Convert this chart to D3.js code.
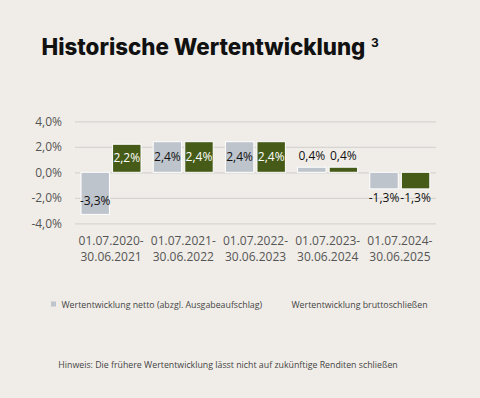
<!DOCTYPE html>
<html lang="de">
	<head>
		<meta charset="utf-8">
		<title>Historische Wertentwicklung</title>
		<script src="https://cdn.jsdelivr.net/npm/d3@7"></script>
		<style>
			body { margin:0; background:#f0ede8; }
			text { font-family: "Open Sans", sans-serif; }
		</style>
	</head>
	<body>
	<div id="chart"></div>
	<script>
		// data
		var periods = ["01.07.2020-|30.06.2021", "01.07.2021-|30.06.2022", "01.07.2022-|30.06.2023", "01.07.2023-|30.06.2024", "01.07.2024-|30.06.2025"];
		var netto = [-3.3, 2.4, 2.4, 0.4, -1.3];
		var brutto = [2.2, 2.4, 2.4, 0.4, -1.3];
		var seriesNames = ["Wertentwicklung netto (abzgl. Ausgabeaufschlag)", "Wertentwicklung bruttoschließen"];
		var yTicks = [-4, -2, 0, 2, 4];

		var w = 480, h = 398;
		var gray = "#bec4cc", green = "#455b17";

		var svg = d3.select("#chart").append("svg")
			.attr("width", w).attr("height", h);

		svg.append("rect").attr("width", w).attr("height", h).attr("fill", "#f0ede8");

		//Title
		var title = svg.append("text")
			.attr("x", 41.5).attr("y", 55)
			.style("font-family", "Inter, sans-serif")
			.style("font-weight", 800)
			.style("font-size", "24px")
			.attr("fill", "#111")
			.text("Historische Wertentwicklung");
		var tl = title.node().getComputedTextLength();
		title.style("font-size", (24 * 324 / tl) + "px");
		svg.append("text")
			.attr("x", 371).attr("y", 47)
			.style("font-family", "Inter, sans-serif")
			.style("font-weight", 700)
			.style("font-size", "12px")
			.attr("fill", "#111")
			.text("3");

		//Scales
		var y = d3.scaleLinear().domain([-4, 4]).range([223.3, 121.3]);
		var x0 = d3.scaleBand().domain(periods).range([75, 436]);
		var x1 = d3.scaleBand().domain([0, 1]).range([6, 66]).paddingInner(0.1);

		//Grid + y axis
		var yAxis = d3.axisLeft(y)
			.tickValues(yTicks)
			.tickSize(-(436 - 75))
			.tickPadding(13)
			.tickFormat(function(d){ return d.toFixed(1).replace(".", ",") + "%"; });
		var ya = svg.append("g")
			.attr("transform", "translate(75,0)")
			.call(yAxis);
		ya.select(".domain").remove();
		ya.selectAll("line").attr("stroke", "#d6d5d3").attr("stroke-width", 1.3);
		ya.selectAll("text").style("font-size", "12px").attr("fill", "#555");

		//Bars
		var rows = [];
		periods.forEach(function(p, i){
			rows.push({p: p, s: 0, v: netto[i]});
			rows.push({p: p, s: 1, v: brutto[i]});
		});

		svg.selectAll("rect.bar")
			.data(rows)
			.enter()
			.append("rect")
			.attr("class", "bar")
			.attr("x", function(d){ return x0(d.p) + x1(d.s); })
			.attr("width", x1.bandwidth())
			.attr("y", function(d){ return y(Math.max(0, d.v)); })
			.attr("height", function(d){ return Math.abs(y(d.v) - y(0)); })
			.attr("fill", function(d){ return d.s == 0 ? gray : green; })
			.attr("stroke", "#fff")
			.attr("stroke-width", 1);

		//Value labels
		svg.selectAll("text.val")
			.data(rows)
			.enter()
			.append("text")
			.attr("class", "val")
			.attr("x", function(d){ return x0(d.p) + x1(d.s) + x1.bandwidth() / 2; })
			.attr("y", function(d){
				var inside = Math.abs(d.v) >= 1.5;
				if (inside) return (y(d.v) + y(0)) / 2 + (d.v < 0 ? 7 : 0);
				return d.v >= 0 ? y(d.v) - 11 : y(d.v) + 9;
			})
			.attr("dy", "0.35em")
			.attr("text-anchor", "middle")
			.style("font-size", "12px")
			.attr("fill", function(d){
				return (d.s == 1 && Math.abs(d.v) >= 1.5) ? "#fff" : "#111";
			})
			.text(function(d){ return d.v.toFixed(1).replace(".", ",") + "%"; });

		//X labels
		var xl = svg.selectAll("text.cat")
			.data(periods)
			.enter()
			.append("text")
			.attr("class", "cat")
			.attr("text-anchor", "middle")
			.style("font-size", "12px")
			.attr("fill", "#555")
			.attr("transform", function(d){ return "translate(" + (x0(d) + x0.bandwidth() / 2) + ",245)"; });
		xl.selectAll("tspan")
			.data(function(d){ return d.split("|"); })
			.enter()
			.append("tspan")
			.attr("x", 0)
			.attr("y", function(d, i){ return i * 16; })
			.text(function(d){ return d; });

		//Legend
		svg.append("rect")
			.attr("x", 51).attr("y", 301.5)
			.attr("width", 5).attr("height", 5)
			.attr("fill", gray);
		svg.append("text")
			.attr("x", 61.5).attr("y", 307.5)
			.style("font-size", "8.8px")
			.attr("fill", "#444")
			.text(seriesNames[0]);
		svg.append("text")
			.attr("x", 291.5).attr("y", 307.5)
			.style("font-size", "8.8px")
			.attr("fill", "#444")
			.text(seriesNames[1]);

		//Footer
		svg.append("text")
			.attr("x", 58.3).attr("y", 367.5)
			.style("font-size", "8.8px")
			.attr("fill", "#444")
			.text("Hinweis: Die frühere Wertentwicklung lässt nicht auf zukünftige Renditen schließen");
	</script>
	</body>
</html>
